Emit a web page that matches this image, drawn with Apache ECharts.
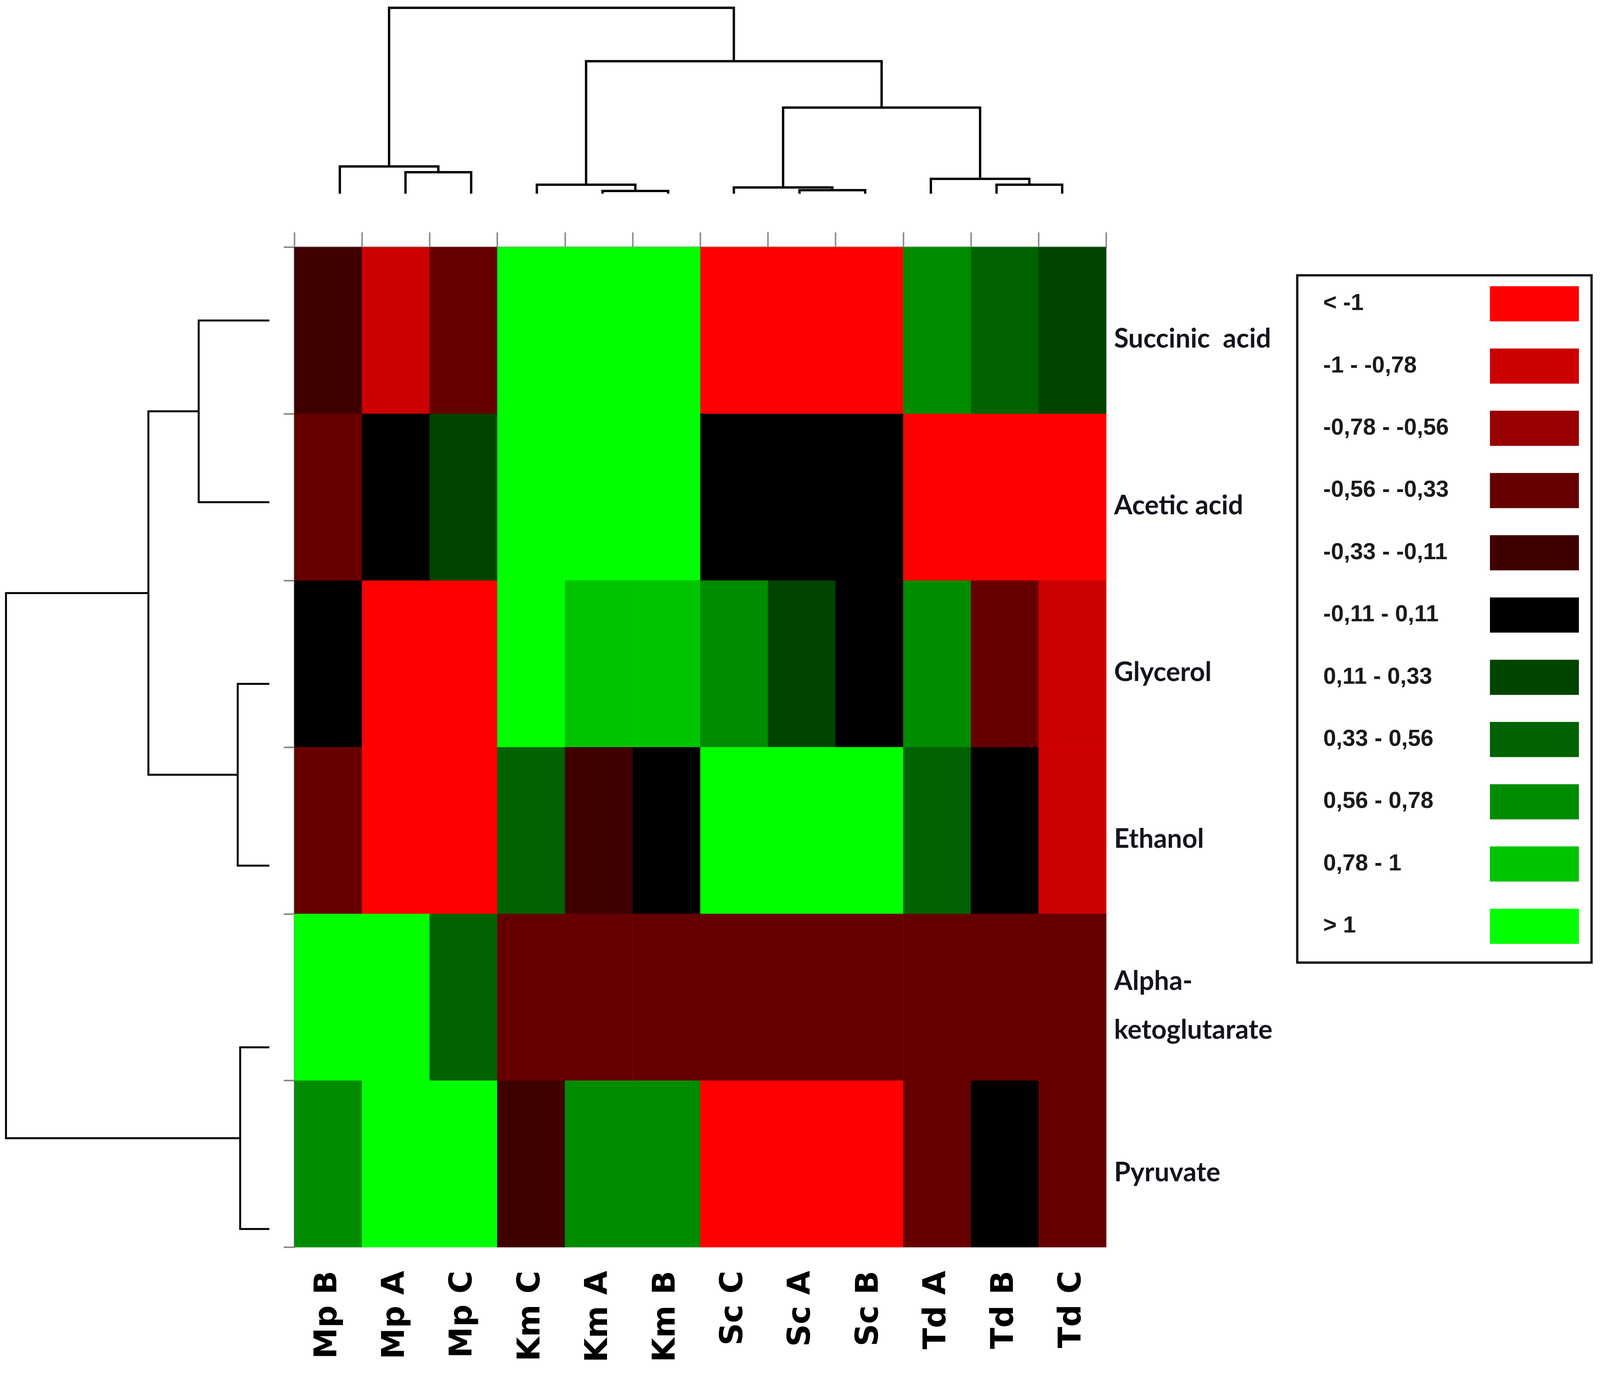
<!DOCTYPE html>
<html>
<head>
<meta charset="utf-8">
<title>Heatmap with dendrograms</title>
<script src="https://cdn.jsdelivr.net/npm/echarts@6/dist/echarts.min.js"></script>
<style>
    html, body { margin: 0; padding: 0; background: #fff; overflow: hidden; }
    #chart { width: 100vw; height: 100vh; }
</style>
</head>
<body>
<div id="chart"></div>
<script>
    // samples, in the order of the column dendrogram
    var samples = ['Mp B', 'Mp A', 'Mp C', 'Km C', 'Km A', 'Km B', 'Sc C', 'Sc A', 'Sc B', 'Td A', 'Td B', 'Td C'];
    // compounds, in the order of the row dendrogram
    var compounds = ['Succinic  acid', 'Acetic acid', 'Glycerol', 'Ethanol', 'Alpha-\nketoglutarate', 'Pyruvate'];

    // standardised values per compound (one per sample)
    var succinic = [-0.22, -0.9, -0.45, 1.3, 1.3, 1.3, -1.3, -1.3, -1.3, 0.68, 0.45, 0.22];
    var acetic   = [-0.45, 0.0, 0.22, 1.3, 1.3, 1.3, 0.02, 0.0, -0.02, -1.2, -1.2, -1.2];
    var glycerol = [0.0, -1.3, -1.3, 1.2, 0.88, 0.88, 0.66, 0.24, 0.02, 0.66, -0.45, -0.9];
    var ethanol  = [-0.45, -1.3, -1.3, 0.44, -0.24, 0.0, 1.25, 1.25, 1.25, 0.44, 0.0, -0.9];
    var alphaKg  = [1.2, 1.2, 0.44, -0.45, -0.45, -0.45, -0.45, -0.45, -0.45, -0.45, -0.45, -0.45];
    var pyruvate = [0.66, 1.2, 1.2, -0.24, 0.66, 0.66, -1.25, -1.25, -1.25, -0.45, 0.0, -0.45];

    // colour classes of the legend
    var legendLabels = ['< -1', '-1 - -0,78', '-0,78 - -0,56', '-0,56 - -0,33', '-0,33 - -0,11', '-0,11 - 0,11',
        '0,11 - 0,33', '0,33 - 0,56', '0,56 - 0,78', '0,78 - 1', '> 1'];
    var classBreaks = [-1, -0.78, -0.56, -0.33, -0.11, 0.11, 0.33, 0.56, 0.78, 1];
    var classColors = ['#ff0000', '#cc0000', '#990000', '#660000', '#3f0000', '#000000',
        '#004400', '#006200', '#008c00', '#00c400', '#00ff00'];

    // linkage: [child a, child b, height]; leaves are 0..n-1, new clusters numbered from n
    var colMerges = [
        [4, 5, 7],      // 12 Km A + Km B
        [7, 8, 9],      // 13 Sc A + Sc B
        [10, 11, 23],   // 14 Td B + Td C
        [3, 12, 23],    // 15 Km C
        [6, 13, 16],    // 16 Sc C
        [1, 2, 55],     // 17 Mp A + Mp C
        [9, 14, 38],    // 18 Td A
        [0, 17, 70],    // 19 Mp B
        [16, 18, 221],  // 20 Sc + Td
        [15, 20, 340],  // 21 Km + (Sc, Td)
        [19, 21, 477]   // 22 root
    ];
    var rowMerges = [
        [2, 3, 90],     // 6 Glycerol + Ethanol
        [4, 5, 83],     // 7 Alpha-ketoglutarate + Pyruvate
        [0, 1, 201],    // 8 Succinic + Acetic
        [8, 6, 344],    // 9
        [9, 7, 749]     // 10 root
    ];

    var rows = [succinic, acetic, glycerol, ethanol, alphaKg, pyruvate];
    var heatData = [];
    rows.forEach(function (vals, r) {
      vals.forEach(function (v, c) {
        heatData.push([c, r, v]);
      });
    });

    var pieces = classColors.map(function (col, i) {
      if (i === 0) return { lt: classBreaks[0], color: col };
      if (i === classColors.length - 1) return { gte: classBreaks[i - 1], color: col };
      return { gte: classBreaks[i - 1], lt: classBreaks[i], color: col };
    });

    // U-shaped links of a dendrogram, leaf i sits at i + 0.5
    function dendroLinks(nLeaves, merges, horizontal) {
      var pos = [], hgt = [];
      for (var i = 0; i < nLeaves; i++) { pos.push(i + 0.5); hgt.push(0); }
      return merges.map(function (m) {
        var a = m[0], b = m[1], h = m[2];
        var pts = [[pos[a], hgt[a]], [pos[a], h], [pos[b], h], [pos[b], hgt[b]]];
        pos.push((pos[a] + pos[b]) / 2);
        hgt.push(h);
        if (horizontal) pts = pts.map(function (p) { return [p[1], p[0]]; });
        return { coords: pts };
      });
    }

    // layout is measured on a 4550 x 3516 page, scaled to the real window
    var sx = window.innerWidth / 4550;
    var sy = window.innerHeight / 3516;
    function X(v) { return v * sx; }
    function Y(v) { return v * sy; }
    var fs = Math.min(sx, sy);

    var rowFont = "Lato, 'Liberation Sans', sans-serif";
    var colFont = "'DejaVu Sans', sans-serif";
    var legFont = "'Liberation Sans', sans-serif";

    // legend box drawn as graphic elements
    var legendGraphic = [{
      type: 'rect',
      shape: { x: X(3689), y: Y(705), width: X(837), height: Y(1760) },
      style: { fill: '#fff', stroke: '#1a1a1a', lineWidth: 6 }
    }];
    legendLabels.forEach(function (txt, i) {
      var cy = Y(778 + 159.4 * i);
      legendGraphic.push({
        type: 'text', x: X(3763), y: cy,
        style: { text: txt, font: 'bold ' + Math.round(66 * fs) + 'px ' + legFont, fill: '#1a1a1a', verticalAlign: 'middle' }
      });
      legendGraphic.push({
        type: 'rect',
        shape: { x: X(4237), y: cy - Y(45), width: X(253), height: Y(90) },
        style: { fill: classColors[i] }
      });
    });

    // row labels sit a little below the row centres
    var rowSize = Math.round(76 * fs);
    var rowRich = {
      r: {
        fontSize: rowSize, fontWeight: 'bold', fontFamily: rowFont, color: '#14141e',
        lineHeight: Y(125), padding: [Y(44), 0, 0, 0]
      }
    };

    var myChart = echarts.init(document.getElementById('chart'));

    var option = {
      backgroundColor: '#fff',
      animation: false,
      grid: [
        { left: X(837), top: Y(633), width: X(2309), height: Y(2561) },   // heatmap
        { left: X(873), top: Y(20), width: X(2241), height: Y(476) },     // column dendrogram
        { left: X(17), top: Y(588), width: X(749), height: Y(2792) }      // row dendrogram
      ],
      xAxis: [
        {
          gridIndex: 0, type: 'category', data: samples, position: 'bottom',
          axisLine: { show: false }, axisTick: { show: false }, splitLine: { show: false },
          axisLabel: {
            rotate: 90, margin: Y(60), fontSize: Math.round(80 * sy), fontWeight: 'bold',
            fontFamily: colFont, color: '#000'
          }
        },
        {
          gridIndex: 0, type: 'category', data: samples, position: 'top',
          axisLabel: { show: false }, splitLine: { show: false },
          axisLine: { show: true, lineStyle: { color: '#a0a0a0', width: 4 } },
          axisTick: { show: true, length: Y(38), interval: 0, lineStyle: { color: '#909090', width: 4 } }
        },
        { gridIndex: 1, type: 'value', min: 0, max: 12, show: false },
        { gridIndex: 2, type: 'value', min: 0, max: 749, inverse: true, show: false }
      ],
      yAxis: [
        {
          gridIndex: 0, type: 'category', data: compounds, inverse: true, position: 'right',
          axisLine: { show: false }, axisTick: { show: false }, splitLine: { show: false },
          axisLabel: {
            margin: X(22),
            fontSize: rowSize, fontWeight: 'bold', fontFamily: rowFont, color: '#14141e',
            formatter: function (v) {
              return v.split('\n').map(function (s) { return '{r|' + s + '}'; }).join('\n');
            },
            rich: rowRich
          }
        },
        {
          gridIndex: 0, type: 'category', data: compounds, inverse: true, position: 'left',
          axisLabel: { show: false }, splitLine: { show: false },
          axisLine: { show: true, lineStyle: { color: '#999', width: 4 } },
          axisTick: { show: true, length: X(30), interval: 0, lineStyle: { color: '#888', width: 4 } }
        },
        { gridIndex: 1, type: 'value', min: 0, max: 477, show: false },
        { gridIndex: 2, type: 'value', min: 0, max: 6, inverse: true, show: false }
      ],
      visualMap: {
        type: 'piecewise', show: false, seriesIndex: 0, dimension: 2, pieces: pieces
      },
      graphic: legendGraphic,
      series: [
        {
          type: 'heatmap', xAxisIndex: 0, yAxisIndex: 0, data: heatData,
          itemStyle: { borderWidth: 0 }, emphasis: { disabled: true }, silent: true
        },
        {
          type: 'lines', coordinateSystem: 'cartesian2d', xAxisIndex: 2, yAxisIndex: 2,
          polyline: true, clip: false, silent: true,
          lineStyle: { color: '#000', width: 6, opacity: 1 },
          data: dendroLinks(samples.length, colMerges, false)
        },
        {
          type: 'lines', coordinateSystem: 'cartesian2d', xAxisIndex: 3, yAxisIndex: 3,
          polyline: true, clip: false, silent: true,
          lineStyle: { color: '#000', width: 5, opacity: 1 },
          data: dendroLinks(compounds.length, rowMerges, true)
        }
      ]
    };

    myChart.setOption(option);
</script>
</body>
</html>
